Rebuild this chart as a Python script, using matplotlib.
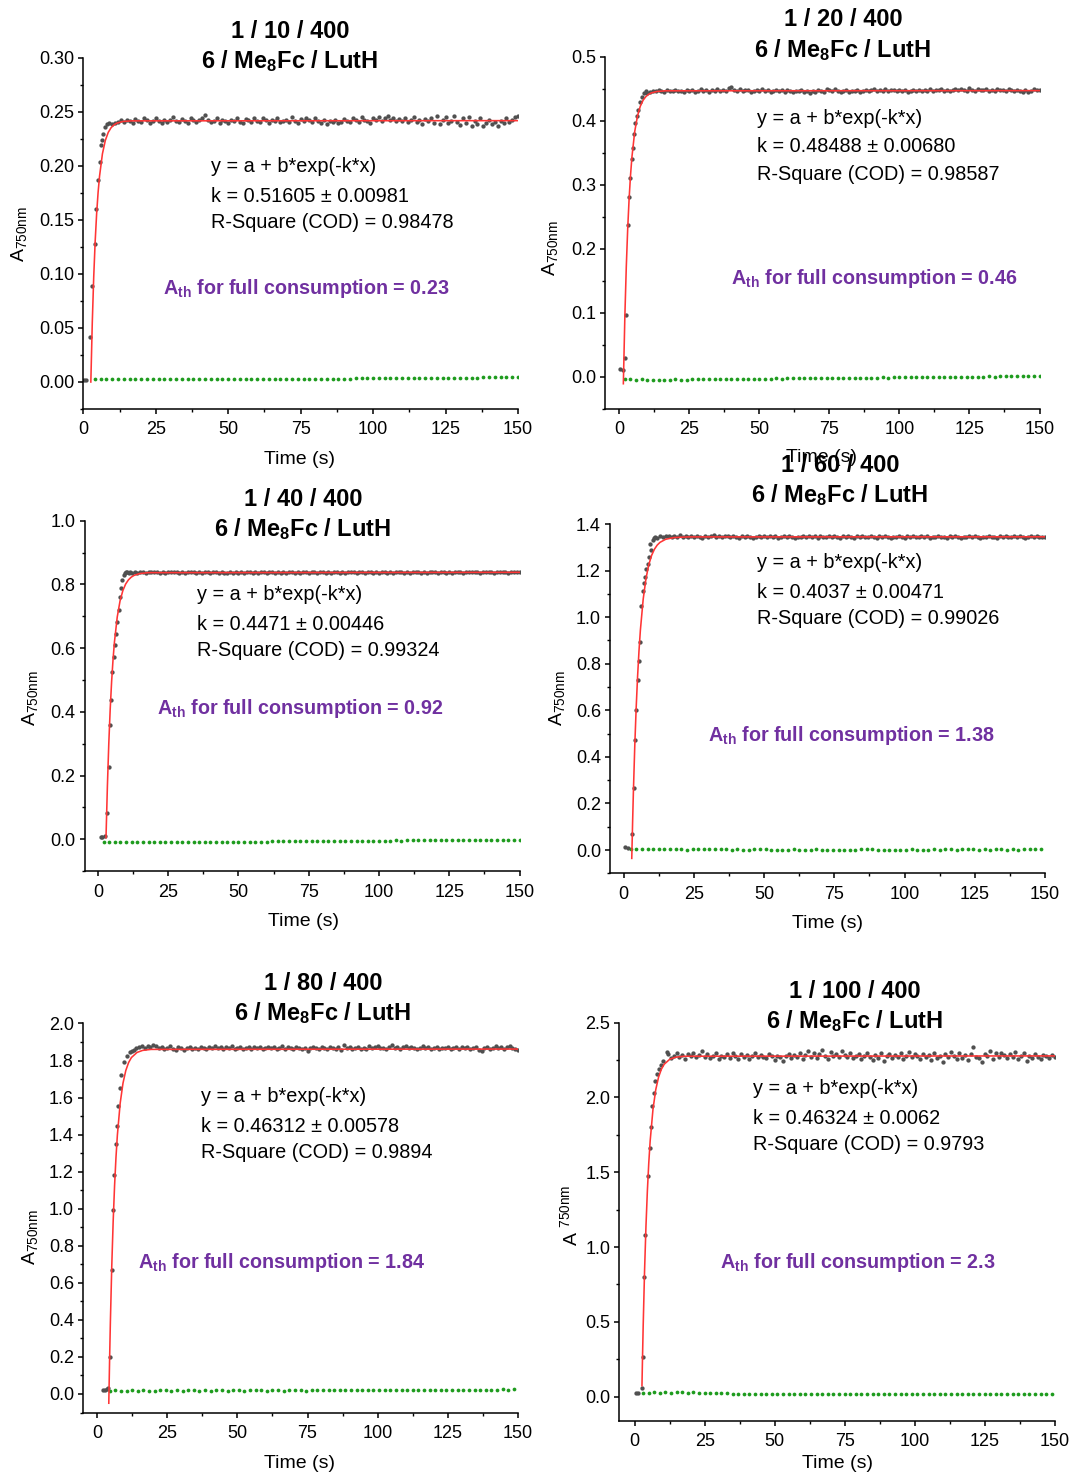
import numpy as np
import matplotlib
matplotlib.use("Agg")
import matplotlib.pyplot as plt
from matplotlib.ticker import MultipleLocator, FormatStrFormatter

plt.rcParams["font.family"] = ["Liberation Sans", "DejaVu Sans"]
plt.rcParams["mathtext.fontset"] = "custom"
plt.rcParams["mathtext.rm"] = "Liberation Sans"
plt.rcParams["mathtext.it"] = "Liberation Sans:italic"
plt.rcParams["mathtext.bf"] = "Liberation Sans:bold"

W, H = 1071, 1476

# ---------------------------------------------------------------- data
# gray = measured A750 (rise read point by point, plateau sampled every 1 s)
# green = blank run (sampled every 2 s), red = exponential fit curve
# sampling times are the instrument grid: start + step * index

# panel 1 : 1 / 10 / 400
p1_rise_t = [0.3, 1.0, 2.4, 3.0, 4.0, 4.5, 4.9, 5.6, 6.1, 6.4, 6.9, 7.5, 8.3, 9.0]
p1_rise_y = [0.002, 0.002, 0.042, 0.089, 0.128, 0.160, 0.187, 0.204, 0.219, 0.224,
             0.230, 0.236, 0.239, 0.240]
p1_plateau_start = 10
p1_plateau_1e4 = [
    2385, 2400, 2410, 2425, 2405, 2430, 2415, 2400, 2435, 2420,
    2410, 2440, 2425, 2400, 2415, 2445, 2420, 2395, 2430, 2410,
    2425, 2450, 2415, 2405, 2435, 2420, 2400, 2440, 2430, 2410,
    2425, 2445, 2470, 2430, 2405, 2420, 2440, 2395, 2425, 2415,
    2400, 2430, 2420, 2445, 2410, 2395, 2435, 2425, 2405, 2440,
    2420, 2410, 2445, 2430, 2400, 2425, 2415, 2440, 2405, 2420,
    2430, 2410, 2450, 2420, 2395, 2435, 2415, 2440, 2425, 2405,
    2445, 2420, 2400, 2430, 2390, 2415, 2405, 2425, 2395, 2410,
    2435, 2420, 2405, 2440, 2425, 2410, 2450, 2430, 2415, 2400,
    2445, 2430, 2455, 2420, 2440, 2460, 2425, 2445, 2415, 2435,
    2420, 2440, 2410, 2430, 2450, 2405, 2425, 2390, 2435, 2415,
    2445, 2400, 2460, 2385, 2430, 2455, 2395, 2420, 2465, 2410,
    2380, 2440, 2400, 2455, 2375, 2420, 2390, 2445, 2370, 2400,
    2430, 2385, 2410, 2375, 2420, 2395, 2440, 2405, 2425, 2450,
    2460]
p1_blank_start = 4
p1_blank_1e4 = [
    28, 26, 25, 24, 26, 25, 27, 26, 28, 27, 26, 28, 27, 29, 28, 27, 26, 28, 29, 27,
    28, 26, 27, 29, 28, 27, 30, 28, 29, 27, 28, 30, 29, 28, 30, 29, 31, 30, 29, 31,
    30, 32, 31, 30, 32, 34, 35, 36, 35, 37, 36, 38, 37, 36, 38, 37, 39, 38, 40, 39,
    38, 40, 41, 40, 39, 41, 40, 42, 43, 47, 44, 45, 46, 45]
p1_fit_t = [2.6, 3.1, 3.6, 4.1, 4.6, 5.1, 5.6, 6.6, 7.6, 8.6, 9.6, 10.6, 11.6, 13.6, 16.6, 150]
p1_fit_y = [0.0, 0.0550, 0.0976, 0.1304, 0.1558, 0.1754, 0.1905, 0.2113, 0.2237, 0.2311,
            0.2355, 0.2381, 0.2397, 0.2412, 0.2418, 0.2420]

# panel 2 : 1 / 20 / 400
p2_rise_t = [0.25, 1.2, 2.0, 2.4, 3.0, 3.3, 3.7, 4.4, 4.8, 5.25, 5.7, 6.3, 6.8, 7.4, 8.0, 8.8, 9.4]
p2_rise_y = [0.0115, 0.011, 0.029, 0.097, 0.237, 0.281, 0.310, 0.340, 0.357, 0.379,
             0.396, 0.407, 0.417, 0.430, 0.437, 0.443, 0.446]
p2_plateau_start = 10
p2_plateau_1e4 = [
    4440, 4455, 4470, 4460, 4480, 4465, 4450, 4475, 4460, 4470,
    4485, 4460, 4470, 4450, 4475, 4465, 4480, 4455, 4470, 4490,
    4465, 4475, 4450, 4480, 4470, 4500, 4460, 4485, 4470, 4510,
    4520, 4480, 4470, 4495, 4460, 4475, 4485, 4455, 4470, 4480,
    4465, 4490, 4460, 4475, 4450, 4470, 4485, 4460, 4475, 4455,
    4480, 4465, 4445, 4470, 4460, 4475, 4450, 4465, 4440, 4470,
    4455, 4480, 4465, 4450, 4490, 4475, 4460, 4500, 4470, 4455,
    4465, 4480, 4450, 4470, 4460, 4485, 4455, 4470, 4480, 4460,
    4475, 4490, 4465, 4480, 4470, 4495, 4460, 4475, 4485, 4470,
    4480, 4465, 4475, 4455, 4470, 4485, 4460, 4475, 4465, 4480,
    4470, 4490, 4465, 4480, 4475, 4495, 4470, 4485, 4460, 4475,
    4490, 4475, 4500, 4480, 4470, 4510, 4485, 4470, 4495, 4480,
    4475, 4490, 4470, 4485, 4465, 4495, 4475, 4480, 4460, 4490,
    4475, 4465, 4485, 4470, 4455, 4480, 4445, 4470, 4490, 4475,
    4480]
p2_blank_start = 2
p2_blank_1e4 = [
    -40, -42, -44, -43, -45, -44, -46, -45, -44, -43, -45, -44, -42, -43, -41, -42,
    -40, -41, -39, -40, -38, -39, -37, -38, -40, -32, -30, -28, -29, -27, -26, -28,
    -25, -24, -22, -23, -21, -20, -19, -21, -18, -17, -15, -16, -14, -13, -12, -14,
    -11, -10, -9, -8, -10, -7, -6, -5, -4, -6, -3, -2, -1, 0, 2, 1, 3, 4, 2, 5, 6,
    4, 7, 8, 9, 10, 12]
p2_fit_t = [1.45, 2.0, 2.5, 3.0, 3.5, 4.0, 4.5, 5.5, 6.5, 7.5, 8.5, 9.5, 10.5, 11.5, 13.5, 16.5, 150]
p2_fit_y = [-0.011, 0.0962, 0.1718, 0.2310, 0.2775, 0.3140, 0.3427, 0.3828, 0.4074,
            0.4226, 0.4320, 0.4377, 0.4413, 0.4435, 0.4457, 0.4467, 0.4470]

# panel 3 : 1 / 40 / 400
p3_rise_t = [0.95, 1.6, 2.5, 3.3, 3.75, 4.2, 4.65, 5.1, 5.55, 6.0, 6.45, 6.9, 7.35, 7.8,
             8.25, 8.7, 9.15, 9.6, 10.05, 10.5, 11.0, 11.5]
p3_rise_y = [0.006, 0.008, 0.010, 0.082, 0.228, 0.359, 0.437, 0.526, 0.573, 0.610, 0.644,
             0.683, 0.720, 0.760, 0.788, 0.814, 0.830, 0.836, 0.838, 0.840, 0.837, 0.839]
p3_plateau_start = 12
p3_plateau_1e4 = [
    8360, 8385, 8370, 8395, 8380, 8365, 8390, 8375, 8400, 8380,
    8370, 8390, 8360, 8385, 8375, 8395, 8380, 8365, 8390, 8370,
    8385, 8375, 8395, 8360, 8380, 8370, 8390, 8380, 8365, 8385,
    8375, 8360, 8380, 8370, 8355, 8375, 8365, 8380, 8370, 8385,
    8360, 8375, 8390, 8370, 8380, 8365, 8385, 8375, 8370, 8390,
    8375, 8365, 8380, 8370, 8385, 8360, 8375, 8390, 8370, 8380,
    8365, 8385, 8375, 8370, 8390, 8380, 8365, 8375, 8385, 8370,
    8380, 8360, 8375, 8390, 8370, 8385, 8365, 8380, 8375, 8395,
    8370, 8385, 8375, 8365, 8390, 8380, 8370, 8385, 8360, 8375,
    8390, 8370, 8380, 8365, 8385, 8375, 8395, 8370, 8380, 8360,
    8385, 8375, 8390, 8365, 8380, 8370, 8385, 8400, 8375, 8365,
    8380, 8395, 8370, 8385, 8360, 8375, 8390, 8380, 8365, 8385,
    8375, 8395, 8405, 8380, 8370, 8390, 8375, 8385, 8395, 8370,
    8380, 8390, 8375, 8385, 8370, 8395, 8380, 8375, 8385]
p3_blank_start = 2
p3_blank_1e4 = [
    -75, -80, -85, -82, -88, -86, -90, -87, -85, -88, -84, -86, -83, -85, -82, -80,
    -83, -79, -81, -78, -76, -79, -75, -77, -73, -71, -74, -70, -68, -71, -66, -64,
    -67, -62, -60, -63, -58, -56, -59, -54, -52, -55, -50, -48, -51, -46, -44, -47,
    -42, -40, -43, -38, -36, -39, -34, -30, -33, -28, -25, -22, -26, -20, -18, -15,
    -12, -14, -10, -8, -11, -6, -9, -7, -10, -8, -9]
p3_fit_t = [2.85, 3.35, 3.85, 4.35, 4.85, 5.35, 5.85, 6.85, 7.85, 8.85, 9.85, 10.85,
            11.85, 12.85, 14.85, 17.85, 150]
p3_fit_y = [0.005, 0.1679, 0.3021, 0.4094, 0.4953, 0.5639, 0.6188, 0.6978, 0.7483,
            0.7807, 0.8013, 0.8145, 0.8230, 0.8284, 0.8341, 0.8370, 0.8380]

# panel 4 : 1 / 60 / 400
p4_rise_t = [0.6, 1.4, 3.1, 3.55, 4.0, 4.45, 4.9, 5.35, 5.8, 6.25, 6.7, 7.15, 7.6, 8.05,
             8.5, 8.95, 9.4, 9.85, 10.3, 10.75, 11.2]
p4_rise_y = [0.014, 0.010, 0.069, 0.265, 0.472, 0.601, 0.730, 0.812, 0.894, 1.047, 1.113,
             1.147, 1.173, 1.205, 1.227, 1.259, 1.316, 1.288, 1.330, 1.340, 1.345]
p4_plateau_start = 12
p4_plateau_1e3 = [
    1342, 1348, 1345, 1350, 1347, 1343, 1349, 1346, 1351, 1344,
    1347, 1343, 1349, 1345, 1350, 1346, 1342, 1348, 1344, 1347,
    1351, 1345, 1348, 1343, 1347, 1350, 1344, 1349, 1346, 1342,
    1347, 1344, 1349, 1345, 1341, 1346, 1348, 1343, 1347, 1345,
    1350, 1344, 1347, 1342, 1346, 1349, 1343, 1348, 1345, 1340,
    1346, 1343, 1348, 1345, 1350, 1344, 1347, 1342, 1349, 1345,
    1343, 1347, 1344, 1349, 1346, 1341, 1347, 1344, 1348, 1345,
    1342, 1347, 1344, 1349, 1345, 1343, 1348, 1346, 1342, 1347,
    1344, 1349, 1345, 1341, 1346, 1343, 1348, 1345, 1342, 1347,
    1344, 1348, 1343, 1346, 1349, 1344, 1347, 1342, 1346, 1345,
    1348, 1343, 1346, 1341, 1347, 1344, 1349, 1345, 1342, 1346,
    1343, 1347, 1344, 1348, 1345, 1341, 1346, 1343, 1348, 1344,
    1346, 1342, 1347, 1344, 1349, 1345, 1343, 1347, 1344, 1348,
    1345, 1342, 1346, 1349, 1344, 1347, 1343, 1346, 1345]
p4_blank_start = 2.5
p4_blank_1e3 = [
    5, 6, 5, 5, 6, 5, 4, 5, 5, 4, 2, 4, 5, 4, 3, 4, 5, 3, 2, 3, 2, 1, 3, 4, 3,
    2, 1, 0, 2, 3, 2, 1, 2, 3, 2, 1, 0, 1, 2, 1, 2, 3, 4, 3, 2, 1, 2, 0, 1, 2,
    3, 2, 1, 2, 3, 2, 4, 3, 2, 3, 4, 3, 2, 3, 2, 4, 3, 2, 3, 2, 3, 4, 3, 3]
p4_fit_t = [2.85, 2.92, 3.17, 3.42, 3.92, 4.42, 4.92, 5.42, 5.92, 6.92, 7.92, 8.92, 9.92,
            10.92, 11.92, 12.92, 14.92, 17.92, 22.92, 150]
p4_fit_y = [-0.036, 0.0, 0.129, 0.2459, 0.4467, 0.6109, 0.7450, 0.8546, 0.9443, 1.0774,
            1.1663, 1.2257, 1.2653, 1.2917, 1.3095, 1.3213, 1.3344, 1.3418, 1.3446, 1.3450]

# panel 5 : 1 / 80 / 400
p5_rise_t = [2.2, 2.8, 3.4, 3.9, 4.67, 5.28, 5.65, 6.14, 6.76, 7.25, 7.62, 8.1, 8.7, 9.6,
             10.8, 11.6, 12.4]
p5_rise_y = [0.020, 0.022, 0.025, 0.030, 0.198, 0.671, 0.993, 1.182, 1.347, 1.448, 1.556,
             1.651, 1.723, 1.792, 1.827, 1.845, 1.853]
p5_plateau_start = 13
p5_plateau_1e3 = [
    1858, 1866, 1872, 1877, 1869, 1880, 1874, 1885, 1876, 1868,
    1874, 1862, 1870, 1878, 1865, 1859, 1871, 1866, 1856, 1868,
    1875, 1863, 1870, 1864, 1872, 1867, 1860, 1873, 1869, 1876,
    1866, 1871, 1862, 1874, 1868, 1877, 1865, 1870, 1873, 1861,
    1869, 1875, 1864, 1871, 1867, 1873, 1860, 1868, 1874, 1866,
    1871, 1862, 1869, 1876, 1865, 1872, 1868, 1861, 1874, 1867,
    1863, 1870, 1852, 1866, 1873, 1868, 1862, 1875, 1869, 1864,
    1871, 1866, 1860, 1873, 1855, 1884, 1867, 1872, 1861, 1869,
    1874, 1865, 1870, 1863, 1876, 1868, 1872, 1881, 1866, 1870,
    1864, 1875, 1886, 1869, 1873, 1865, 1871, 1880, 1867, 1874,
    1868, 1863, 1870, 1876, 1866, 1872, 1861, 1869, 1874, 1864,
    1870, 1866, 1873, 1860, 1868, 1875, 1865, 1871, 1867, 1874,
    1862, 1869, 1873, 1858, 1854, 1866, 1871, 1864, 1870, 1876,
    1867, 1872, 1865, 1874, 1877, 1869, 1862, 1855]
p5_blank_start = 4.5
p5_blank_1e3 = [
    18, 19, 18, 18, 19, 18, 19, 18, 18, 19, 19, 18, 19, 18, 19, 19, 18, 19, 18, 19,
    19, 18, 19, 19, 18, 19, 19, 19, 18, 19, 19, 18, 19, 19, 19, 18, 19, 19, 20, 19,
    19, 19, 20, 19, 19, 20, 19, 19, 20, 20, 19, 20, 19, 20, 20, 19, 20, 20, 20, 19,
    20, 20, 21, 20, 20, 21, 20, 21, 21, 24, 25, 24, 25]
p5_fit_t = [4.19, 4.25, 4.5, 4.75, 5.25, 5.75, 6.25, 6.75, 7.25, 8.25, 9.25, 10.25, 11.25,
            12.25, 14.25, 16.25, 19.25, 150]
p5_fit_y = [-0.05, 0.0, 0.2036, 0.3849, 0.6901, 0.9323, 1.1245, 1.2770, 1.3978, 1.5699,
            1.6780, 1.7462, 1.7892, 1.8162, 1.8438, 1.8548, 1.8602, 1.8620]

# panel 6 : 1 / 100 / 400
p6_rise_t = [0.46, 1.3, 2.5, 2.85, 3.45, 3.8, 4.9, 5.35, 5.8, 6.3, 6.9, 7.4, 8.0, 8.8,
             9.4, 10.2, 11.4, 12.0]
p6_rise_y = [0.022, 0.025, 0.056, 0.263, 0.802, 1.081, 1.475, 1.665, 1.805, 1.945, 2.028,
             2.112, 2.157, 2.190, 2.217, 2.246, 2.306, 2.291]
p6_plateau_start = 13
p6_plateau_1e3 = [
    2262, 2280, 2295, 2270, 2285, 2258, 2290, 2275, 2300, 2268,
    2283, 2310, 2272, 2290, 2262, 2278, 2295, 2255, 2280, 2270,
    2288, 2265, 2300, 2275, 2260, 2292, 2270, 2283, 2258, 2278,
    2295, 2268, 2285, 2272, 2262, 2290, 2275, 2250, 2280, 2268,
    2245, 2275, 2290, 2262, 2283, 2270, 2300, 2258, 2285, 2310,
    2272, 2295, 2265, 2288, 2315, 2275, 2260, 2305, 2280, 2292,
    2268, 2310, 2285, 2272, 2298, 2262, 2280, 2290, 2255, 2275,
    2295, 2270, 2250, 2283, 2265, 2300, 2245, 2278, 2290, 2262,
    2285, 2272, 2298, 2258, 2280, 2305, 2268, 2290, 2275, 2260,
    2292, 2270, 2285, 2248, 2300, 2262, 2278, 2240, 2288, 2270,
    2305, 2275, 2258, 2295, 2265, 2283, 2250, 2290, 2340, 2270,
    2262, 2240, 2288, 2275, 2310, 2258, 2295, 2270, 2300, 2283,
    2265, 2290, 2272, 2305, 2255, 2280, 2298, 2245, 2275, 2262,
    2288, 2270, 2260, 2282, 2278, 2265, 2285, 2270]
p6_blank_start = 3
p6_blank_1e3 = [
    25, 27, 28, 27, 28, 27, 28, 28, 27, 28, 27, 26, 25, 24, 23, 22, 21, 20, 20, 19,
    20, 19, 19, 20, 19, 19, 18, 19, 19, 18, 19, 18, 18, 19, 18, 18, 19, 18, 18, 18,
    19, 18, 18, 18, 18, 19, 18, 18, 18, 18, 18, 17, 18, 18, 18, 17, 18, 18, 17, 18,
    18, 17, 18, 17, 18, 18, 17, 18, 17, 17, 18, 17, 18, 17]
p6_fit_t = [2.6, 2.78, 3.03, 3.53, 4.03, 4.53, 5.03, 5.53, 6.53, 7.53, 8.53, 9.53, 10.53,
            12.53, 14.53, 17.53, 150]
p6_fit_y = [0.073, 0.249, 0.4709, 0.8442, 1.1406, 1.3757, 1.5622, 1.7101, 1.9206, 2.0529,
            2.1363, 2.1889, 2.2220, 2.2558, 2.2692, 2.2758, 2.2780]

titles = ["1 / 10 / 400", "1 / 20 / 400", "1 / 40 / 400",
          "1 / 60 / 400", "1 / 80 / 400", "1 / 100 / 400"]
k_texts = ["k = 0.51605 \u00b1 0.00981", "k = 0.48488 \u00b1 0.00680",
           "k = 0.4471 \u00b1 0.00446", "k = 0.4037 \u00b1 0.00471",
           "k = 0.46312 \u00b1 0.00578", "k = 0.46324 \u00b1 0.0062"]
r2_texts = ["R-Square (COD) = 0.98478", "R-Square (COD) = 0.98587",
            "R-Square (COD) = 0.99324", "R-Square (COD) = 0.99026",
            "R-Square (COD) = 0.9894", "R-Square (COD) = 0.9793"]
ath_values = ["0.23", "0.46", "0.92", "1.38", "1.84", "2.3"]

# ---------------------------------------------------------------- layout (pixels)
panels = [
    dict(rise=(p1_rise_t, p1_rise_y), plat=(p1_plateau_start, p1_plateau_1e4, 1e-4),
         blank=(p1_blank_start, p1_blank_1e4, 1e-4), fit=(p1_fit_t, p1_fit_y),
         box=(83.3, 518.0, 58.0, 409.0), xlim=(0, 150), ylim=(-0.025, 0.30),
         ymaj=0.05, fmt="%.2f", title_xy=(290, 31), eq_xy=(211, 167), ath_xy=(163, 289),
         ylab_xy=(19, 234), xlab_xy=(300, 460), ylab=r"A$_{\mathrm{750nm}}$"),
    dict(rise=(p2_rise_t, p2_rise_y), plat=(p2_plateau_start, p2_plateau_1e4, 1e-4),
         blank=(p2_blank_start, p2_blank_1e4, 1e-4), fit=(p2_fit_t, p2_fit_y),
         box=(605.0, 1039.5, 56.7, 408.7), xlim=(-5.1, 150), ylim=(-0.05, 0.5),
         ymaj=0.1, fmt="%.1f", title_xy=(843, 20), eq_xy=(757, 118), ath_xy=(731, 279),
         ylab_xy=(550, 248), xlab_xy=(821, 457), ylab=r"A$_{\mathrm{750nm}}$"),
    dict(rise=(p3_rise_t, p3_rise_y), plat=(p3_plateau_start, p3_plateau_1e4, 1e-4),
         blank=(p3_blank_start, p3_blank_1e4, 1e-4), fit=(p3_fit_t, p3_fit_y),
         box=(84.5, 519.5, 520.7, 871.2), xlim=(-4.8, 150), ylim=(-0.1, 1.0),
         ymaj=0.2, fmt="%.1f", title_xy=(303, 499), eq_xy=(197, 595), ath_xy=(157, 708),
         ylab_xy=(30, 698), xlab_xy=(303, 922), ylab=r"A$_{\mathrm{750nm}}$"),
    dict(rise=(p4_rise_t, p4_rise_y), plat=(p4_plateau_start, p4_plateau_1e3, 1e-3),
         blank=(p4_blank_start, p4_blank_1e3, 1e-3), fit=(p4_fit_t, p4_fit_y),
         box=(610.0, 1045.0, 524.0, 873.3), xlim=(-4.9, 150), ylim=(-0.1, 1.4),
         ymaj=0.2, fmt="%.1f", title_xy=(840, 465), eq_xy=(757, 563), ath_xy=(708, 735),
         ylab_xy=(557, 698), xlab_xy=(828, 924), ylab=r"A$_{\mathrm{750nm}}$"),
    dict(rise=(p5_rise_t, p5_rise_y), plat=(p5_plateau_start, p5_plateau_1e3, 1e-3),
         blank=(p5_blank_start, p5_blank_1e3, 1e-3), fit=(p5_fit_t, p5_fit_y),
         box=(83.0, 518.0, 1023.5, 1412.5), xlim=(-5.0, 150), ylim=(-0.1, 2.0),
         ymaj=0.2, fmt="%.1f", title_xy=(323, 983), eq_xy=(201, 1097), ath_xy=(138, 1262),
         ylab_xy=(30, 1237), xlab_xy=(300, 1463), ylab=r"A$_{\mathrm{750nm}}$"),
    dict(rise=(p6_rise_t, p6_rise_y), plat=(p6_plateau_start, p6_plateau_1e3, 1e-3),
         blank=(p6_blank_start, p6_blank_1e3, 1e-3), fit=(p6_fit_t, p6_fit_y),
         box=(619.3, 1054.5, 1022.7, 1420.6), xlim=(-5.5, 150), ylim=(-0.16, 2.5),
         ymaj=0.5, fmt="%.1f", title_xy=(855, 991), eq_xy=(753, 1089), ath_xy=(720, 1262),
         ylab_xy=(570, 1215), xlab_xy=(838, 1463), ylab=r"A $^{\mathrm{750nm}}$"),
]

GRAY = "#505050"
GREEN = "#1e9b1e"
RED = "#ff3535"
PURPLE = "#7030a0"


def fx(x):
    return x / W


def fy(y):
    return 1 - y / H


fig = plt.figure(figsize=(W / 100, H / 100), dpi=100)

for i, p in enumerate(panels):
    left, right, top, bottom = p["box"]
    ax = fig.add_axes([fx(left), fy(bottom), (right - left) / W, (bottom - top) / H])

    rt, ry = p["rise"]
    ax.plot(rt, ry, ls="none", marker="o", ms=3.1, mfc=GRAY, mec="none", zorder=2)

    t0, vals, scale = p["plat"]
    pt = t0 + np.arange(len(vals))
    ax.plot(pt, np.array(vals) * scale, ls="none", marker="o", ms=3.1,
            mfc=GRAY, mec="none", zorder=2)

    b0, bvals, bscale = p["blank"]
    bt = b0 + 2.0 * np.arange(len(bvals))
    ax.plot(bt, np.array(bvals) * bscale, ls="none", marker="o", ms=2.7,
            mfc=GREEN, mec="none", zorder=3)

    ft, fv = p["fit"]
    ax.plot(ft, fv, color=RED, lw=1.15, zorder=4)

    ax.set_xlim(*p["xlim"])
    ax.set_ylim(*p["ylim"])
    ax.xaxis.set_major_locator(MultipleLocator(25))
    ax.xaxis.set_minor_locator(MultipleLocator(12.5))
    ax.yaxis.set_major_locator(MultipleLocator(p["ymaj"]))
    ax.yaxis.set_minor_locator(MultipleLocator(p["ymaj"] / 2))
    ax.yaxis.set_major_formatter(FormatStrFormatter(p["fmt"]))
    ax.spines["top"].set_visible(False)
    ax.spines["right"].set_visible(False)
    for s in ("left", "bottom"):
        ax.spines[s].set_linewidth(1.1)
    ax.tick_params(which="major", direction="out", length=3.5, width=1.1,
                   labelsize=13, pad=3, colors="black")
    ax.tick_params(axis="x", which="major", pad=5.5)
    ax.tick_params(which="minor", direction="out", length=2.2, width=1.0)
    ax.set_facecolor("none")

    tx, ty = p["title_xy"]
    fig.text(fx(tx), fy(ty), titles[i], ha="center", va="center",
             fontsize=17, fontweight="bold")
    fig.text(fx(tx), fy(ty + 30), r"6 / Me$_\mathbf{8}$Fc / LutH", ha="center",
             va="center", fontsize=17, fontweight="bold")

    ex, ey = p["eq_xy"]
    fig.text(fx(ex), fy(ey), "y = a + b*exp(-k*x)", ha="left", va="center", fontsize=14.3)
    fig.text(fx(ex), fy(ey + 29), k_texts[i], ha="left", va="center", fontsize=14.3)
    fig.text(fx(ex), fy(ey + 56), r2_texts[i], ha="left", va="center", fontsize=14.3)

    axx, axy = p["ath_xy"]
    fig.text(fx(axx), fy(axy), r"A$_{\mathbf{th}}$ for full consumption = " + ath_values[i],
             ha="left", va="center", fontsize=14.2, fontweight="bold", color=PURPLE)

    lx, ly = p["ylab_xy"]
    fig.text(fx(lx), fy(ly), p["ylab"], ha="center", va="center",
             rotation=90, fontsize=14)
    xx, xy = p["xlab_xy"]
    fig.text(fx(xx), fy(xy), "Time (s)", ha="center", va="center", fontsize=14)

fig.savefig("out.png", dpi=100)
